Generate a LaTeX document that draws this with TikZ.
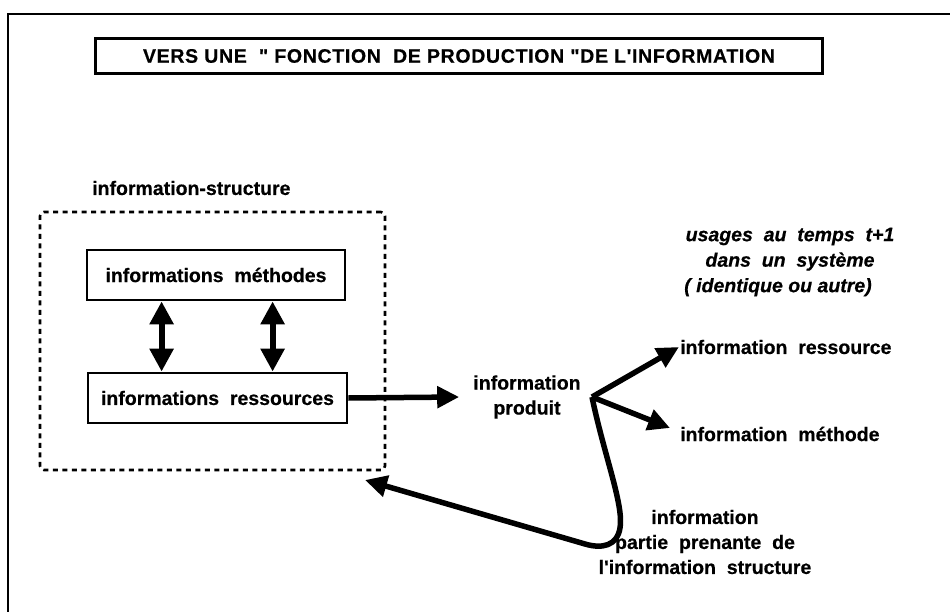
\documentclass[tikz,border=0pt]{standalone}
\usepackage{fontspec}
\newfontfamily\lbold{Liberation Sans Bold}[FakeBold=0.5]
\newfontfamily\lboldit{Liberation Sans Bold Italic}[FakeBold=0.5]
\usetikzlibrary{arrows.meta}

\begin{document}
\begin{tikzpicture}[x=1pt,y=-1pt,
  txt/.style={font=\lbold\fontsize{19.5}{25}\selectfont, inner sep=0pt},
  itxt/.style={font=\lboldit\fontsize{19.5}{25.5}\selectfont, inner sep=0pt, align=center},
  box/.style={draw, line width=2.8pt, inner sep=0pt, txt},
  frame/.style={line width=2.5pt},
  thick arrow/.style={line width=5.5pt, -{Triangle[length=22pt,width=21pt]}},
  both arrow/.style={line width=6pt, {Triangle[length=23pt,width=23pt]}-{Triangle[length=23pt,width=23pt]}},
  dashbox/.style={draw, line width=2.6pt, dash pattern=on 5pt off 4.5pt, rounded corners=4pt, inner sep=0pt}]
\useasboundingbox (0,0) rectangle (950,612);

% outer frame (top and left rules)
\coordinate (ftr) at (950,14);
\coordinate (fc) at (8,14);
\coordinate (fbl) at (8,612);
\draw[frame] (ftr) -- (fc) -- (fbl);

% title
\node[box, minimum width=727, minimum height=35] (title) at (459,56)
  {\addfontfeature{LetterSpace=3.5}VERS UNE \ " FONCTION \ DE PRODUCTION "DE L'INFORMATION};

% information-structure group
\node[txt, anchor=west] (structlbl) at (92,188) {information-structure};
\node[dashbox, minimum width=345, minimum height=258] (struct) at (212.5,341) {};

\node[box, minimum width=258, minimum height=50] (meth) at (216,275) {informations \ méthodes};
\node[box, minimum width=259, minimum height=50] (res) at (217.5,398) {informations \ ressources};

\draw[both arrow] ([xshift=76pt]meth.south west) -- ([xshift=75pt]res.north west);
\draw[both arrow] ([xshift=187pt]meth.south west) -- ([xshift=186pt]res.north west);

% produced information
\node[txt, align=center] (prod) at (527,397) {information\\produit};
\draw[thick arrow] (res.east) -- ([xshift=-14pt]prod.west);

% uses at t+1
\node[itxt] (usage) at (790,262)
  {usages \ au \ temps \ t+1\\dans \ un \ système\\( identique ou autre)\hspace*{24pt}};
\node[txt, anchor=west] (ires) at (680,347) {information \ ressource};
\node[txt, anchor=west] (imeth) at (680,434) {information \ méthode};

\coordinate (br) at (592,397);
\draw[thick arrow] (br) -- ([xshift=-1pt]ires.west);
\draw[thick arrow] (br) -- (670,428);

% feedback into the structure
\node[txt, align=center] (part) at (705,542)
  {information\\partie \ prenante \ de\\l'information \ structure};
\coordinate (loopend) at (365,480);
\draw[thick arrow, line join=round]
  (br) .. controls (604,455) and (624,505) .. (620,528)
       .. controls (617,546) and (602,549) .. (585,544) -- (loopend);
\end{tikzpicture}
\end{document}
